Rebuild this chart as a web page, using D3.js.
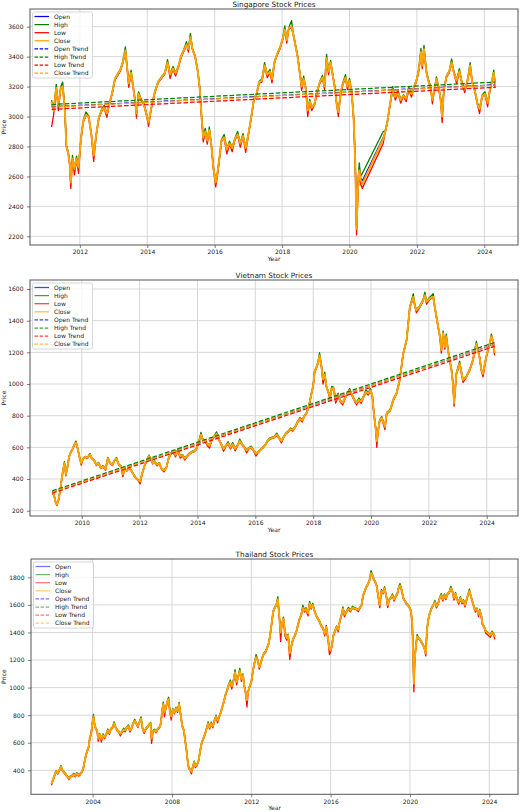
<!DOCTYPE html>
<html>
<head>
<meta charset="utf-8">
<script src="https://cdn.jsdelivr.net/npm/d3@7"></script>
<style>
  body { margin: 0; background: #fff; }
  text { font-family: "DejaVu Sans", sans-serif; fill: #222; }
</style>
</head>
<body>
<div id="chart"></div>
<script>
// series order used by every price row: [year, open, high, low, close]
var seriesNames = ["Open", "High", "Low", "Close"];
var seriesColors = ["blue", "green", "red", "orange"];

var sgPrices = [
[2011.16,3095,3110,2930,3100],[2011.22,3045,3045,3010,3040],[2011.30,3185,3215,3185,3190],[2011.36,3075,3075,3040,3070],
[2011.43,3185,3195,3185,3190],[2011.49,3195,3230,3195,3200],[2011.55,3065,3065,3055,3060],[2011.60,2805,2805,2795,2800],
[2011.65,2765,2765,2755,2760],[2011.70,2685,2685,2670,2680],[2011.73,2565,2565,2520,2560],[2011.78,2715,2740,2715,2720],
[2011.84,2655,2655,2610,2650],[2011.90,2715,2735,2715,2720],[2011.96,2665,2665,2620,2660],[2012.03,2845,2855,2845,2850],
[2012.10,2965,2975,2965,2970],[2012.18,3005,3030,3005,3010],[2012.26,3005,3005,2995,3000],[2012.34,2885,2885,2875,2880],
[2012.41,2745,2745,2700,2740],[2012.48,2865,2875,2865,2870],[2012.56,2985,2995,2985,2990],[2012.64,3035,3045,3035,3040],
[2012.72,3055,3075,3055,3060],[2012.80,3025,3025,2995,3020],[2012.88,3085,3095,3085,3090],[2012.96,3155,3165,3155,3160],
[2013.04,3245,3255,3245,3250],[2013.12,3275,3285,3275,3280],[2013.20,3305,3315,3305,3310],[2013.27,3355,3365,3355,3360],
[2013.35,3435,3465,3435,3440],[2013.40,3335,3335,3325,3330],[2013.45,3225,3225,3195,3220],[2013.52,3285,3310,3285,3290],
[2013.58,3205,3205,3195,3200],[2013.64,3105,3105,3095,3100],[2013.68,3025,3025,2990,3020],[2013.74,3145,3165,3145,3150],
[2013.82,3115,3115,3105,3110],[2013.90,3085,3085,3075,3080],[2013.98,3015,3015,3005,3010],[2014.04,2965,2965,2935,2960],
[2014.12,3055,3065,3055,3060],[2014.22,3155,3165,3155,3160],[2014.32,3225,3235,3225,3230],[2014.42,3255,3265,3255,3260],
[2014.52,3285,3295,3285,3290],[2014.60,3355,3380,3355,3360],[2014.68,3285,3285,3255,3280],[2014.76,3315,3335,3315,3320],
[2014.84,3295,3295,3270,3290],[2014.92,3325,3335,3325,3330],[2015.00,3395,3405,3395,3400],[2015.08,3435,3445,3435,3440],
[2015.16,3475,3500,3475,3480],[2015.22,3455,3455,3430,3450],[2015.28,3525,3555,3525,3530],[2015.34,3455,3455,3445,3450],
[2015.42,3405,3405,3395,3400],[2015.50,3305,3305,3295,3300],[2015.56,3185,3185,3175,3180],[2015.61,3005,3005,2990,3000],
[2015.66,2865,2865,2830,2860],[2015.72,2895,2920,2895,2900],[2015.78,2845,2845,2815,2840],[2015.84,2905,2930,2905,2910],
[2015.90,2815,2815,2805,2810],[2015.96,2665,2665,2650,2660],[2016.03,2565,2565,2530,2560],[2016.08,2615,2625,2600,2620],
[2016.14,2715,2725,2715,2720],[2016.20,2835,2845,2835,2840],[2016.28,2855,2880,2855,2860],[2016.36,2785,2785,2750,2780],
[2016.44,2815,2835,2815,2820],[2016.52,2795,2795,2765,2790],[2016.60,2845,2855,2845,2850],[2016.68,2875,2900,2875,2880],
[2016.76,2825,2825,2795,2820],[2016.84,2865,2885,2865,2870],[2016.92,2795,2795,2760,2790],[2017.00,2875,2885,2875,2880],
[2017.08,2985,2995,2985,2990],[2017.16,3105,3115,3105,3110],[2017.24,3145,3155,3145,3150],[2017.32,3225,3235,3225,3230],
[2017.40,3235,3250,3230,3240],[2017.48,3335,3360,3335,3340],[2017.56,3285,3285,3260,3280],[2017.64,3295,3315,3295,3300],
[2017.70,3255,3255,3225,3250],[2017.78,3365,3375,3365,3370],[2017.86,3415,3425,3415,3420],[2017.94,3455,3465,3455,3460],
[2018.02,3515,3525,3515,3520],[2018.08,3575,3605,3575,3580],[2018.14,3515,3515,3490,3510],[2018.20,3585,3595,3585,3590],
[2018.28,3595,3640,3595,3600],[2018.34,3545,3545,3535,3540],[2018.40,3475,3475,3465,3470],[2018.46,3405,3405,3395,3400],
[2018.52,3305,3305,3295,3300],[2018.58,3205,3205,3175,3200],[2018.64,3245,3270,3245,3250],[2018.70,3195,3195,3185,3190],
[2018.76,3045,3045,3000,3040],[2018.82,3095,3115,3095,3100],[2018.88,3065,3065,3040,3060],[2018.96,3075,3085,3075,3080],
[2019.04,3165,3175,3165,3170],[2019.12,3225,3235,3225,3230],[2019.20,3255,3275,3255,3260],[2019.26,3205,3205,3180,3200],
[2019.32,3385,3415,3385,3390],[2019.38,3305,3305,3280,3300],[2019.44,3355,3375,3355,3360],[2019.50,3285,3285,3275,3280],
[2019.56,3205,3205,3195,3200],[2019.62,3085,3085,3075,3080],[2019.67,3035,3035,3000,3030],[2019.74,3155,3165,3155,3160],
[2019.80,3215,3225,3215,3220],[2019.88,3255,3280,3255,3260],[2019.94,3205,3205,3180,3200],[2020.00,3235,3255,3235,3240],
[2020.06,3175,3175,3165,3170],[2020.12,3005,3005,2990,3000],[2020.17,2710,2710,2690,2700],[2020.21,2255,2260,2210,2250],
[2020.25,2510,2560,2480,2520],[2020.29,2635,2690,2630,2640],[2020.33,2590,2600,2550,2580],[2020.38,2570,2620,2520,2550],
[2021.00,2860,2900,2820,2850],[2021.06,2895,2905,2895,2900],[2021.12,2955,2965,2955,2960],[2021.20,3075,3085,3075,3080],
[2021.28,3175,3200,3175,3180],[2021.36,3135,3135,3110,3130],[2021.44,3155,3175,3155,3160],[2021.52,3115,3115,3090,3110],
[2021.60,3135,3145,3135,3140],[2021.68,3125,3125,3100,3120],[2021.76,3175,3195,3175,3180],[2021.84,3155,3155,3130,3150],
[2021.92,3195,3205,3195,3200],[2022.00,3245,3255,3245,3250],[2022.06,3315,3325,3315,3320],[2022.12,3425,3455,3425,3430],
[2022.16,3345,3345,3320,3340],[2022.21,3445,3475,3445,3450],[2022.28,3305,3305,3295,3300],[2022.34,3245,3245,3235,3240],
[2022.40,3205,3205,3195,3200],[2022.46,3115,3115,3085,3110],[2022.52,3175,3185,3175,3180],[2022.58,3245,3265,3245,3250],
[2022.64,3205,3205,3195,3200],[2022.70,3125,3125,3115,3120],[2022.75,3005,3005,2960,3000],[2022.80,3175,3185,3175,3180],
[2022.88,3265,3275,3265,3270],[2022.96,3295,3305,3295,3300],[2023.03,3355,3385,3355,3360],[2023.10,3295,3295,3285,3290],
[2023.18,3245,3245,3220,3240],[2023.26,3295,3320,3295,3300],[2023.34,3225,3225,3215,3220],[2023.42,3185,3185,3160,3180],
[2023.50,3235,3245,3235,3240],[2023.58,3335,3360,3335,3340],[2023.64,3235,3235,3225,3230],[2023.72,3175,3175,3165,3170],
[2023.80,3085,3085,3075,3080],[2023.86,3055,3055,3020,3050],[2023.94,3135,3145,3135,3140],[2024.02,3145,3165,3145,3150],
[2024.10,3095,3095,3065,3090],[2024.16,3165,3175,3165,3170],[2024.22,3225,3235,3225,3230],[2024.28,3285,3310,3285,3290],
[2024.32,3225,3225,3190,3220]
];

var vnPrices = [
[2008.98,316,320,305,315],[2009.04,301,303,297,300],[2009.10,251,253,247,250],[2009.14,241,243,233,240],
[2009.20,269,273,267,270],[2009.27,349,353,347,350],[2009.33,429,433,427,430],[2009.40,499,510,497,500],
[2009.45,431,433,420,430],[2009.50,469,473,467,470],[2009.56,539,543,537,540],[2009.62,569,573,567,570],
[2009.68,589,593,587,590],[2009.75,619,623,617,620],[2009.80,629,640,627,630],[2009.86,591,593,587,590],
[2009.92,541,543,537,540],[2009.98,501,503,488,500],[2010.05,529,533,527,530],[2010.12,539,543,537,540],
[2010.20,536,538,530,535],[2010.28,554,562,552,555],[2010.35,531,533,527,530],[2010.42,521,523,517,520],
[2010.50,491,493,485,490],[2010.58,499,505,497,500],[2010.66,471,473,465,470],[2010.74,479,485,477,480],
[2010.82,461,463,455,460],[2010.90,529,537,527,530],[2010.98,501,503,497,500],[2011.06,491,493,485,490],
[2011.14,519,523,517,520],[2011.20,529,536,527,530],[2011.28,491,493,487,490],[2011.36,481,483,477,480],
[2011.42,431,433,415,430],[2011.48,459,466,457,460],[2011.56,456,458,450,455],[2011.64,469,476,467,470],
[2011.72,451,453,447,450],[2011.80,426,428,422,425],[2011.88,406,408,402,405],[2011.96,391,393,387,390],
[2012.02,386,388,370,385],[2012.08,429,433,427,430],[2012.16,479,483,477,480],[2012.24,509,513,507,510],
[2012.32,544,552,542,545],[2012.38,531,533,527,530],[2012.45,501,503,495,500],[2012.52,509,515,507,510],
[2012.60,491,493,483,490],[2012.68,499,505,497,500],[2012.76,466,468,460,465],[2012.84,456,458,445,455],
[2012.92,469,473,467,470],[2013.00,529,534,526,530],[2013.08,559,564,556,560],[2013.16,569,578,566,570],
[2013.24,551,554,540,550],[2013.32,579,590,576,580],[2013.40,546,549,532,545],[2013.48,549,556,546,550],
[2013.56,531,534,520,530],[2013.64,544,549,541,545],[2013.72,559,564,556,560],[2013.80,569,574,566,570],
[2013.88,574,579,571,575],[2013.96,589,594,586,590],[2014.04,629,634,626,630],[2014.12,679,695,676,680],
[2014.18,651,654,646,650],[2014.26,641,644,636,640],[2014.34,621,624,610,620],[2014.42,611,614,595,610],
[2014.50,649,654,646,650],[2014.58,669,674,666,670],[2014.66,684,698,681,685],[2014.74,651,654,646,650],
[2014.82,621,624,616,620],[2014.90,591,594,575,590],[2014.98,609,614,606,610],[2015.06,624,636,621,625],
[2015.14,601,604,590,600],[2015.22,619,630,616,620],[2015.30,591,594,578,590],[2015.38,609,614,606,610],
[2015.46,639,652,636,640],[2015.54,621,624,616,620],[2015.62,601,604,596,600],[2015.70,581,584,565,580],
[2015.78,594,599,591,595],[2015.86,599,608,596,600],[2015.94,581,584,576,580],[2016.02,561,564,545,560],
[2016.10,569,574,566,570],[2016.18,584,589,581,585],[2016.26,599,604,596,600],[2016.34,614,619,611,615],
[2016.42,639,644,636,640],[2016.50,654,659,651,655],[2016.58,659,664,656,660],[2016.66,664,669,661,665],
[2016.74,679,690,676,680],[2016.82,661,664,656,660],[2016.90,641,644,628,640],[2016.98,664,669,661,665],
[2017.06,689,694,686,690],[2017.14,699,704,696,700],[2017.22,714,722,711,715],[2017.30,711,714,702,710],
[2017.38,729,734,726,730],[2017.46,759,764,756,760],[2017.54,779,788,776,780],[2017.62,771,774,760,770],
[2017.70,799,804,796,800],[2017.78,819,824,816,820],[2017.86,869,874,866,870],[2017.94,939,944,936,940],
[2018.00,989,994,986,990],[2018.05,1079,1085,1075,1080],[2018.10,1099,1105,1095,1100],[2018.16,1129,1135,1125,1130],
[2018.22,1179,1198,1175,1180],[2018.28,1121,1125,1115,1120],[2018.34,1031,1035,1000,1030],[2018.40,1059,1075,1055,1060],
[2018.46,981,985,975,980],[2018.52,951,955,945,950],[2018.58,921,925,905,920],[2018.64,969,985,965,970],
[2018.70,974,980,970,975],[2018.78,901,905,880,900],[2018.86,929,942,925,930],[2018.94,891,895,885,890],
[2019.02,881,885,868,880],[2019.10,909,915,905,910],[2019.18,939,945,935,940],[2019.26,959,972,955,960],
[2019.34,931,935,925,930],[2019.42,901,905,895,900],[2019.50,881,885,868,880],[2019.58,899,912,895,900],
[2019.66,891,895,878,890],[2019.74,919,925,915,920],[2019.82,949,962,945,950],[2019.90,941,945,930,940],
[2019.98,959,972,955,960],[2020.04,931,935,925,930],[2020.10,811,815,805,810],[2020.16,721,725,712,720],
[2020.20,641,645,600,640],[2020.24,699,705,695,700],[2020.30,769,775,765,770],[2020.37,784,795,780,785],
[2020.48,731,735,712,730],[2020.54,814,820,810,815],[2020.66,834,840,830,835],[2020.77,899,905,895,900],
[2020.88,939,945,935,940],[2020.99,1024,1030,1020,1025],[2021.11,1189,1195,1185,1190],[2021.23,1279,1285,1275,1280],
[2021.34,1484,1490,1480,1485],[2021.46,1549,1570,1545,1550],[2021.52,1491,1495,1485,1490],[2021.57,1466,1470,1450,1465],
[2021.69,1489,1495,1485,1490],[2021.80,1529,1535,1525,1530],[2021.86,1559,1580,1555,1560],[2021.92,1521,1525,1505,1520],
[2022.03,1539,1548,1535,1540],[2022.15,1549,1570,1545,1550],[2022.20,1491,1495,1485,1490],[2022.26,1426,1430,1420,1425],
[2022.32,1361,1365,1355,1360],[2022.38,1301,1305,1295,1300],[2022.43,1216,1220,1195,1215],[2022.49,1319,1335,1315,1320],
[2022.55,1236,1240,1220,1235],[2022.60,1299,1315,1295,1300],[2022.66,1216,1220,1210,1215],[2022.72,1151,1155,1145,1150],
[2022.78,1091,1095,1085,1090],[2022.83,1006,1010,1000,1005],[2022.87,881,890,860,880],[2022.95,1064,1070,1060,1065],
[2023.06,1129,1145,1125,1130],[2023.18,1026,1030,1010,1025],[2023.29,1044,1050,1040,1045],[2023.41,1089,1095,1085,1090],
[2023.52,1149,1155,1145,1150],[2023.64,1254,1270,1250,1255],[2023.75,1171,1175,1165,1170],[2023.81,1091,1095,1085,1090],
[2023.87,1066,1070,1045,1065],[2023.98,1169,1175,1165,1170],[2024.10,1254,1260,1250,1255],[2024.16,1299,1315,1295,1300],
[2024.21,1276,1280,1270,1275],[2024.27,1196,1200,1180,1195]
];

var thPrices = [
[2001.92,301,305,292,300],[2002.00,329,335,325,330],[2002.08,364,370,360,365],[2002.16,394,400,390,395],
[2002.24,381,385,372,380],[2002.32,399,405,395,400],[2002.40,424,435,420,425],[2002.48,401,405,395,400],
[2002.56,386,390,380,385],[2002.64,371,375,365,370],[2002.72,356,360,350,355],[2002.80,341,345,332,340],
[2002.88,354,360,350,355],[2002.96,359,365,355,360],[2003.04,369,378,365,370],[2003.12,361,365,352,360],
[2003.20,374,382,370,375],[2003.28,366,370,358,365],[2003.36,369,375,365,370],[2003.44,384,390,380,385],
[2003.52,409,415,405,410],[2003.60,469,475,465,470],[2003.66,509,515,505,510],[2003.72,539,545,535,540],
[2003.80,569,575,565,570],[2003.86,639,645,635,640],[2003.92,659,665,655,660],[2004.00,759,765,755,760],
[2004.04,789,805,785,790],[2004.10,731,735,725,730],[2004.16,701,705,695,700],[2004.22,691,695,685,690],
[2004.28,631,635,610,630],[2004.36,659,668,655,660],[2004.44,626,630,605,625],[2004.52,654,665,650,655],
[2004.60,641,645,630,640],[2004.68,659,665,655,660],[2004.76,689,700,685,690],[2004.84,671,675,660,670],
[2004.92,699,705,695,700],[2005.00,709,715,705,710],[2005.08,739,752,735,740],[2005.16,711,715,705,710],
[2005.24,691,695,685,690],[2005.32,681,685,675,680],[2005.40,666,670,650,665],[2005.48,679,685,675,680],
[2005.56,694,705,690,695],[2005.64,691,695,680,690],[2005.72,709,715,705,710],[2005.80,719,730,715,720],
[2005.88,691,695,678,690],[2005.96,704,710,700,705],[2006.04,739,745,735,740],[2006.12,759,770,755,760],
[2006.20,741,745,735,740],[2006.28,721,725,710,720],[2006.36,749,755,745,750],[2006.44,774,788,770,775],
[2006.52,701,705,695,700],[2006.60,681,685,668,680],[2006.68,699,705,695,700],[2006.76,714,720,710,715],
[2006.84,729,735,725,730],[2006.92,739,748,735,740],[2006.97,631,640,595,630],[2007.04,679,685,675,680],
[2007.12,689,698,685,690],[2007.20,681,685,672,680],[2007.28,699,705,695,700],[2007.36,709,715,705,710],
[2007.44,739,745,735,740],[2007.50,829,835,825,830],[2007.56,879,895,875,880],[2007.62,821,825,790,820],
[2007.70,859,865,855,860],[2007.78,904,910,900,905],[2007.83,914,930,910,915],[2007.90,821,825,815,820],
[2007.96,791,795,765,790],[2008.04,839,848,835,840],[2008.12,821,825,810,820],[2008.20,849,858,845,850],
[2008.28,831,835,820,830],[2008.36,879,892,875,880],[2008.44,801,805,795,800],[2008.52,721,725,715,720],
[2008.60,691,695,685,690],[2008.66,621,625,615,620],[2008.72,561,565,555,560],[2008.78,481,485,475,480],
[2008.84,421,425,415,420],[2008.92,401,405,395,400],[2008.98,391,395,375,390],[2009.06,429,435,425,430],
[2009.12,459,468,455,460],[2009.18,431,435,420,430],[2009.26,439,445,435,440],[2009.34,469,475,465,470],
[2009.42,539,545,535,540],[2009.50,599,605,595,600],[2009.58,629,635,625,630],[2009.66,659,665,655,660],
[2009.74,699,705,695,700],[2009.82,739,752,735,740],[2009.90,711,715,700,710],[2009.98,739,750,735,740],
[2010.06,721,725,708,720],[2010.14,759,765,755,760],[2010.22,789,800,785,790],[2010.30,761,765,745,760],
[2010.38,789,795,785,790],[2010.46,819,825,815,820],[2010.54,859,865,855,860],[2010.62,899,905,895,900],
[2010.70,949,955,945,950],[2010.78,979,985,975,980],[2010.86,1019,1025,1015,1020],[2010.94,1039,1055,1035,1040],
[2011.02,1011,1015,990,1010],[2011.10,1049,1055,1045,1050],[2011.18,1109,1130,1105,1110],[2011.26,1041,1045,1020,1040],
[2011.34,1079,1085,1075,1080],[2011.42,1119,1140,1115,1120],[2011.50,1061,1065,1045,1060],[2011.58,1089,1100,1085,1090],
[2011.66,1001,1005,995,1000],[2011.72,961,965,950,960],[2011.78,911,915,860,910],[2011.84,969,975,965,970],
[2011.92,1009,1015,1005,1010],[2012.00,1039,1045,1035,1040],[2012.08,1119,1125,1115,1120],[2012.16,1179,1185,1175,1180],
[2012.24,1219,1240,1215,1220],[2012.32,1201,1205,1195,1200],[2012.40,1151,1155,1135,1150],[2012.48,1179,1185,1175,1180],
[2012.56,1219,1225,1215,1220],[2012.64,1249,1255,1245,1250],[2012.72,1259,1265,1255,1260],[2012.80,1289,1295,1285,1290],
[2012.88,1319,1325,1315,1320],[2012.96,1389,1395,1385,1390],[2013.04,1479,1485,1475,1480],[2013.10,1549,1555,1545,1550],
[2013.18,1579,1585,1575,1580],[2013.26,1599,1605,1595,1600],[2013.34,1639,1660,1635,1640],[2013.42,1501,1505,1495,1500],
[2013.48,1401,1405,1335,1400],[2013.54,1459,1465,1455,1460],[2013.62,1499,1512,1495,1500],[2013.70,1401,1405,1375,1400],
[2013.78,1361,1365,1345,1360],[2013.86,1379,1388,1375,1380],[2013.94,1251,1255,1205,1250],[2014.02,1299,1305,1295,1300],
[2014.10,1349,1355,1345,1350],[2014.20,1379,1385,1375,1380],[2014.28,1409,1415,1405,1410],[2014.36,1459,1465,1455,1460],
[2014.44,1499,1505,1495,1500],[2014.52,1529,1535,1525,1530],[2014.60,1579,1598,1575,1580],[2014.68,1561,1565,1548,1560],
[2014.76,1569,1580,1565,1570],[2014.86,1541,1545,1520,1540],[2014.94,1609,1625,1605,1610],[2015.02,1581,1585,1570,1580],
[2015.10,1599,1612,1595,1600],[2015.18,1561,1565,1555,1560],[2015.28,1521,1525,1515,1520],[2015.36,1501,1505,1495,1500],
[2015.44,1481,1485,1475,1480],[2015.52,1451,1455,1445,1450],[2015.62,1431,1435,1425,1430],[2015.70,1391,1395,1375,1390],
[2015.78,1439,1452,1435,1440],[2015.86,1361,1365,1355,1360],[2015.94,1281,1285,1240,1280],[2016.00,1271,1275,1255,1270],
[2016.06,1299,1305,1295,1300],[2016.14,1379,1385,1375,1380],[2016.22,1409,1415,1405,1410],[2016.30,1439,1448,1435,1440],
[2016.38,1421,1425,1405,1420],[2016.46,1479,1485,1475,1480],[2016.54,1519,1525,1515,1520],[2016.62,1569,1585,1565,1570],
[2016.70,1531,1535,1515,1530],[2016.80,1549,1555,1545,1550],[2016.90,1569,1582,1565,1570],[2017.00,1561,1565,1550,1560],
[2017.10,1579,1590,1575,1580],[2017.20,1576,1580,1570,1575],[2017.30,1571,1575,1565,1570],[2017.40,1566,1570,1552,1565],
[2017.48,1579,1585,1575,1580],[2017.56,1599,1605,1595,1600],[2017.64,1669,1675,1665,1670],[2017.72,1699,1705,1695,1700],
[2017.80,1729,1735,1725,1730],[2017.88,1749,1755,1745,1750],[2017.96,1779,1785,1775,1780],[2018.04,1829,1848,1825,1830],
[2018.10,1821,1825,1815,1820],[2018.16,1791,1795,1785,1790],[2018.24,1771,1775,1765,1770],[2018.32,1741,1745,1735,1740],
[2018.40,1661,1665,1655,1660],[2018.48,1601,1605,1580,1600],[2018.56,1699,1712,1695,1700],[2018.64,1691,1695,1680,1690],
[2018.72,1719,1732,1715,1720],[2018.80,1671,1675,1665,1670],[2018.88,1601,1605,1580,1600],[2018.96,1639,1645,1635,1640],
[2019.04,1649,1655,1645,1650],[2019.12,1669,1680,1665,1670],[2019.20,1641,1645,1628,1640],[2019.28,1659,1665,1655,1660],
[2019.36,1679,1685,1675,1680],[2019.44,1729,1735,1725,1730],[2019.50,1739,1755,1735,1740],[2019.58,1711,1715,1705,1710],
[2019.66,1651,1655,1645,1650],[2019.74,1631,1635,1625,1630],[2019.82,1611,1615,1605,1610],[2019.90,1601,1605,1595,1600],
[2019.98,1581,1585,1575,1580],[2020.06,1551,1555,1545,1550],[2020.12,1451,1455,1440,1450],[2020.16,1251,1260,1230,1250],
[2020.20,1031,1045,970,1030],[2020.24,1199,1210,1190,1200],[2020.30,1299,1310,1295,1300],[2020.36,1369,1385,1365,1370],
[2020.42,1361,1365,1355,1360],[2020.50,1351,1355,1345,1350],[2020.58,1331,1335,1325,1330],[2020.66,1311,1315,1305,1310],
[2020.74,1281,1285,1275,1280],[2020.80,1251,1255,1230,1250],[2020.86,1419,1425,1415,1420],[2020.92,1489,1495,1485,1490],
[2021.00,1539,1545,1535,1540],[2021.10,1579,1585,1575,1580],[2021.18,1599,1605,1595,1600],[2021.26,1619,1632,1615,1620],
[2021.34,1591,1595,1578,1590],[2021.42,1609,1615,1605,1610],[2021.50,1649,1655,1645,1650],[2021.58,1669,1682,1665,1670],
[2021.66,1641,1645,1628,1640],[2021.74,1669,1680,1665,1670],[2021.82,1651,1655,1638,1650],[2021.90,1679,1685,1675,1680],
[2021.98,1689,1695,1685,1690],[2022.06,1719,1735,1715,1720],[2022.14,1701,1705,1695,1700],[2022.22,1651,1655,1635,1650],
[2022.30,1679,1690,1675,1680],[2022.38,1641,1645,1635,1640],[2022.46,1621,1625,1605,1620],[2022.54,1649,1660,1645,1650],
[2022.62,1621,1625,1608,1620],[2022.70,1629,1638,1625,1630],[2022.78,1601,1605,1585,1600],[2022.86,1639,1645,1635,1640],
[2022.94,1679,1685,1675,1680],[2023.00,1699,1715,1695,1700],[2023.06,1671,1675,1665,1670],[2023.14,1631,1635,1625,1630],
[2023.22,1591,1595,1585,1590],[2023.30,1561,1565,1548,1560],[2023.38,1569,1578,1565,1570],[2023.46,1531,1535,1515,1530],
[2023.52,1559,1570,1555,1560],[2023.60,1521,1525,1505,1520],[2023.66,1461,1465,1455,1460],[2023.74,1441,1445,1435,1440],
[2023.82,1411,1415,1395,1410],[2023.90,1401,1405,1385,1400],[2023.98,1391,1395,1375,1390],[2024.06,1381,1385,1365,1380],
[2024.14,1399,1410,1395,1400],[2024.22,1391,1395,1385,1390],[2024.28,1371,1375,1350,1370]
];

// linear trend of each series, value at the first and the last date
// (Open, High, Low, Close); Thailand's trend lines do not show in the picture
var sgTrend = [[3065, 3212], [3080, 3230], [3048, 3195], [3063, 3210]];
var vnTrend = [[318, 1250], [325, 1262], [311, 1238], [318, 1250]];
var thTrend = [];

var sgYearTicks = [2012, 2014, 2016, 2018, 2020, 2022, 2024];
var vnYearTicks = [2010, 2012, 2014, 2016, 2018, 2020, 2022, 2024];
var thYearTicks = [2004, 2008, 2012, 2016, 2020, 2024];
var sgPriceTicks = [2200, 2400, 2600, 2800, 3000, 3200, 3400, 3600];
var vnPriceTicks = [200, 400, 600, 800, 1000, 1200, 1400, 1600];
var thPriceTicks = [400, 600, 800, 1000, 1200, 1400, 1600, 1800];

var width = 520;
var height = 812;

var svg = d3.select("#chart").append("svg")
    .attr("width", width)
    .attr("height", height)
    .style("display", "block");

function drawPanel(p) {
    var x = d3.scaleLinear().domain(p.xDomain).range([p.left, p.right]);
    var y = d3.scaleLinear().domain(p.yDomain).range([p.bottom, p.top]);
    var g = svg.append("g");

    // grid
    g.selectAll(".vgrid").data(p.xTicks).enter().append("line")
        .attr("x1", function(d){ return x(d); }).attr("x2", function(d){ return x(d); })
        .attr("y1", p.top).attr("y2", p.bottom)
        .attr("stroke", "#d2d2d2").attr("stroke-width", 0.9);
    g.selectAll(".hgrid").data(p.yTicks).enter().append("line")
        .attr("x1", p.left).attr("x2", p.right)
        .attr("y1", function(d){ return y(d); }).attr("y2", function(d){ return y(d); })
        .attr("stroke", "#d2d2d2").attr("stroke-width", 0.9);

    // price lines: open, high, low, close
    seriesNames.forEach(function(name, k){
        var line = d3.line()
            .x(function(r){ return x(r[0]); })
            .y(function(r){ return y(r[k + 1]); });
        g.append("path")
            .datum(p.rows)
            .attr("d", line)
            .attr("fill", "none")
            .attr("stroke", seriesColors[k])
            .attr("stroke-width", k == 3 ? 2.0 : 1.3)
            .attr("stroke-linejoin", "round");
    });

    // trend lines
    var x0 = p.rows[0][0], x1 = p.rows[p.rows.length - 1][0];
    p.trend.forEach(function(t, k){
        g.append("line")
            .attr("x1", x(x0)).attr("y1", y(t[0]))
            .attr("x2", x(x1)).attr("y2", y(t[1]))
            .attr("stroke", seriesColors[k])
            .attr("stroke-width", 1.25)
            .attr("stroke-dasharray", "4.6,2");
    });

    // axes
    var xAxis = d3.axisBottom(x).tickValues(p.xTicks).tickFormat(d3.format("d"))
        .tickSize(3).tickSizeOuter(0).tickPadding(2);
    var yAxis = d3.axisLeft(y).tickValues(p.yTicks).tickFormat(d3.format("d"))
        .tickSize(3).tickSizeOuter(0).tickPadding(3.5);
    var gx = g.append("g").attr("transform", "translate(0," + p.bottom + ")").call(xAxis);
    var gy = g.append("g").attr("transform", "translate(" + p.left + ",0)").call(yAxis);
    [gx, gy].forEach(function(a){
        a.select(".domain").remove();
        a.selectAll(".tick line").attr("stroke", "#444").attr("stroke-width", 0.7);
        a.selectAll(".tick text").style("font-size", "6px").style("font-family", "DejaVu Sans").attr("fill", "#222");
    });

    // frame
    g.append("rect")
        .attr("x", p.left).attr("y", p.top)
        .attr("width", p.right - p.left).attr("height", p.bottom - p.top)
        .attr("fill", "none").attr("stroke", "#555").attr("stroke-width", 1);

    // title and labels
    g.append("text")
        .attr("x", (p.left + p.right) / 2).attr("y", p.top - 2.5)
        .attr("text-anchor", "middle").style("font-size", "7.3px")
        .text(p.title);
    g.append("text")
        .attr("x", (p.left + p.right) / 2).attr("y", p.bottom + 16)
        .attr("text-anchor", "middle").style("font-size", "6px")
        .text("Year");
    g.append("text")
        .attr("transform", "translate(5.5," + ((p.top + p.bottom) / 2) + ") rotate(-90)")
        .attr("text-anchor", "middle").style("font-size", "6px")
        .text("Price");

    // legend
    var lx = p.left + 2.5, ly = p.top + 3;
    var lg = g.append("g");
    lg.append("rect")
        .attr("x", lx).attr("y", ly).attr("width", 60).attr("height", 66).attr("rx", 2)
        .attr("fill", "#fff").attr("fill-opacity", 0.8)
        .attr("stroke", "#ccc").attr("stroke-width", 0.8);
    var entries = seriesNames.map(function(n, k){ return { name: n, color: seriesColors[k], dash: false }; })
        .concat(seriesNames.map(function(n, k){ return { name: n + " Trend", color: seriesColors[k], dash: true }; }));
    entries.forEach(function(e, i){
        var ry = ly + 4.5 + i * 8.1;
        lg.append("line")
            .attr("x1", lx + 2).attr("x2", lx + 16.5)
            .attr("y1", ry).attr("y2", ry)
            .attr("stroke", e.color).attr("stroke-opacity", p.legendAlpha)
            .attr("stroke-width", 1.25)
            .attr("stroke-dasharray", e.dash ? "3.5,1.6" : null);
        lg.append("text")
            .attr("x", lx + 21.5).attr("y", ry).attr("dy", "0.35em")
            .style("font-size", "6px")
            .text(e.name);
    });
}

drawPanel({
    title: "Singapore Stock Prices", rows: sgPrices, trend: sgTrend,
    left: 30, right: 518, top: 9, bottom: 245,
    xDomain: [2010.52, 2025.0], yDomain: [2142, 3718],
    xTicks: sgYearTicks, yTicks: sgPriceTicks, legendAlpha: 1
});
drawPanel({
    title: "Vietnam Stock Prices", rows: vnPrices, trend: vnTrend,
    left: 30, right: 518, top: 280, bottom: 516,
    xDomain: [2008.21, 2025.08], yDomain: [166.5, 1657],
    xTicks: vnYearTicks, yTicks: vnPriceTicks, legendAlpha: 0.75
});
drawPanel({
    title: "Thailand Stock Prices", rows: thPrices, trend: thTrend,
    left: 31, right: 518, top: 559, bottom: 794.3,
    xDomain: [2000.89, 2025.45], yDomain: [226, 1933],
    xTicks: thYearTicks, yTicks: thPriceTicks, legendAlpha: 0.55
});
</script>
</body>
</html>
